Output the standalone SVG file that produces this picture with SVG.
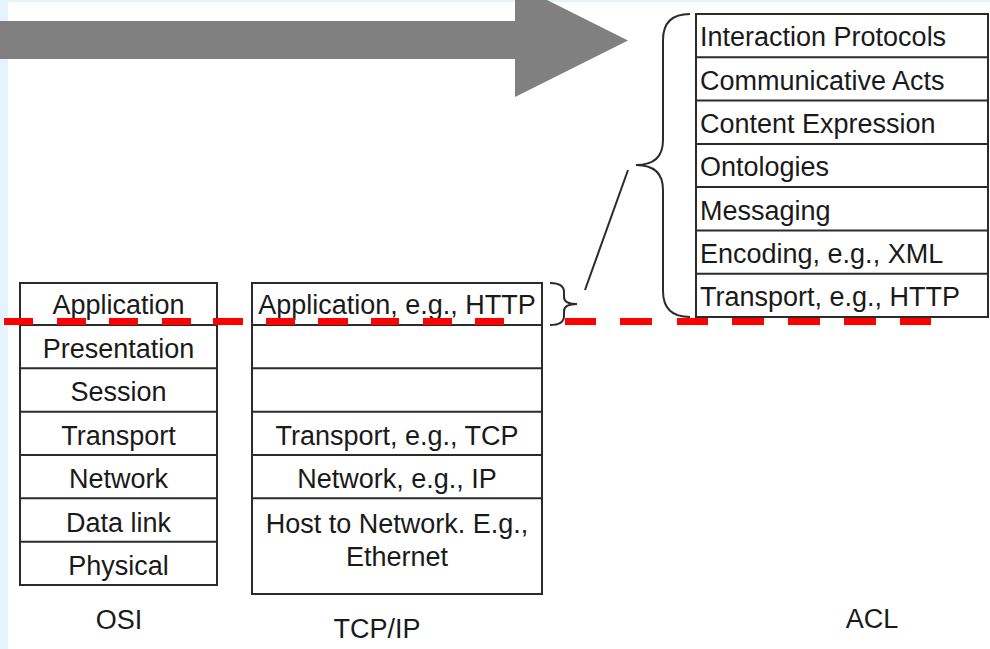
<svg xmlns="http://www.w3.org/2000/svg" width="990" height="649" viewBox="0 0 990 649">
<style>
.box{fill:#ffffff;stroke:#2b2b2b;stroke-width:2}
.sep{stroke:#2b2b2b;stroke-width:2}
.t{font-family:"Liberation Sans",Arial,sans-serif;font-size:27px;fill:#1a1a1a}
.c{text-anchor:middle}
.brace{fill:none;stroke:#2b2b2b;stroke-width:2}
.red{fill:none;stroke:#ff0000;stroke-width:7}
</style>
<rect x="0" y="0" width="990" height="649" fill="#ffffff"/>
<rect x="0" y="0" width="990" height="2" fill="#e4f3fd"/>
<rect x="0" y="0" width="8" height="649" fill="#e4f3fd"/>

<g id="big-arrow">
<polygon points="0,21 515,21 515,-16 628,40.5 515,97 515,59 0,59" fill="#808080"/>
</g>

<g id="osi">
<rect class="box" x="20" y="283" width="197" height="302"/>
<line class="sep" x1="20" y1="325" x2="217" y2="325"/>
<line class="sep" x1="20" y1="368.3" x2="217" y2="368.3"/>
<line class="sep" x1="20" y1="411.7" x2="217" y2="411.7"/>
<line class="sep" x1="20" y1="455" x2="217" y2="455"/>
<line class="sep" x1="20" y1="498.3" x2="217" y2="498.3"/>
<line class="sep" x1="20" y1="541.7" x2="217" y2="541.7"/>
<text class="t c" x="118.5" y="314">Application</text>
<text class="t c" x="118.5" y="358">Presentation</text>
<text class="t c" x="118.5" y="401">Session</text>
<text class="t c" x="118.5" y="444.5">Transport</text>
<text class="t c" x="118.5" y="488">Network</text>
<text class="t c" x="118.5" y="531.5">Data link</text>
<text class="t c" x="118.5" y="575">Physical</text>
<text class="t c" x="119" y="629">OSI</text>
</g>

<g id="tcpip">
<rect class="box" x="252" y="283" width="290" height="311"/>
<line class="sep" x1="252" y1="325" x2="542" y2="325"/>
<line class="sep" x1="252" y1="368.3" x2="542" y2="368.3"/>
<line class="sep" x1="252" y1="411.7" x2="542" y2="411.7"/>
<line class="sep" x1="252" y1="455" x2="542" y2="455"/>
<line class="sep" x1="252" y1="498.3" x2="542" y2="498.3"/>
<text class="t c" x="397" y="314">Application, e.g., HTTP</text>
<text class="t c" x="397" y="444.5">Transport, e.g., TCP</text>
<text class="t c" x="397" y="488">Network, e.g., IP</text>
<text class="t c" x="397" y="533">Host to Network. E.g.,</text>
<text class="t c" x="397" y="566">Ethernet</text>
<text class="t c" x="377" y="638">TCP/IP</text>
</g>

<g id="acl">
<rect class="box" x="696" y="14" width="292" height="303"/>
<line class="sep" x1="696" y1="57.3" x2="988" y2="57.3"/>
<line class="sep" x1="696" y1="100.6" x2="988" y2="100.6"/>
<line class="sep" x1="696" y1="143.9" x2="988" y2="143.9"/>
<line class="sep" x1="696" y1="187.1" x2="988" y2="187.1"/>
<line class="sep" x1="696" y1="230.4" x2="988" y2="230.4"/>
<line class="sep" x1="696" y1="273.7" x2="988" y2="273.7"/>
<text class="t" x="700" y="46">Interaction Protocols</text>
<text class="t" x="700" y="89.5">Communicative Acts</text>
<text class="t" x="700" y="133">Content Expression</text>
<text class="t" x="700" y="176">Ontologies</text>
<text class="t" x="700" y="219.5">Messaging</text>
<text class="t" x="700" y="263">Encoding, e.g., XML</text>
<text class="t" x="700" y="306">Transport, e.g., HTTP</text>
<text class="t c" x="872" y="628">ACL</text>
</g>

<g id="connectors">
<path class="brace" d="M690,14 Q663,14 663,40 L663,140 Q663,165 636,165 Q663,165 663,190 L663,291 Q663,317 690,317"/>
<path class="brace" d="M550,283 Q564,283 564,292 L564,297 Q564,304 577,304 Q564,304 564,311 L564,316 Q564,325 550,325"/>
<line class="sep" x1="628" y1="170" x2="585" y2="290"/>
</g>

<g id="red-dashed-line">
<path class="red" d="M4,321.5H33 M57,321.5H86 M109,321.5H138 M162,321.5H191 M213,321.5H243 M266,321.5H295 M318,321.5H348 M371,321.5H399 M423,321.5H452 M475,321.5H504 M565,321.5H596 M620,321.5H652 M677,321.5H708 M732,321.5H764 M788,321.5H820 M844,321.5H876 M900,321.5H931"/>
</g>
</svg>
